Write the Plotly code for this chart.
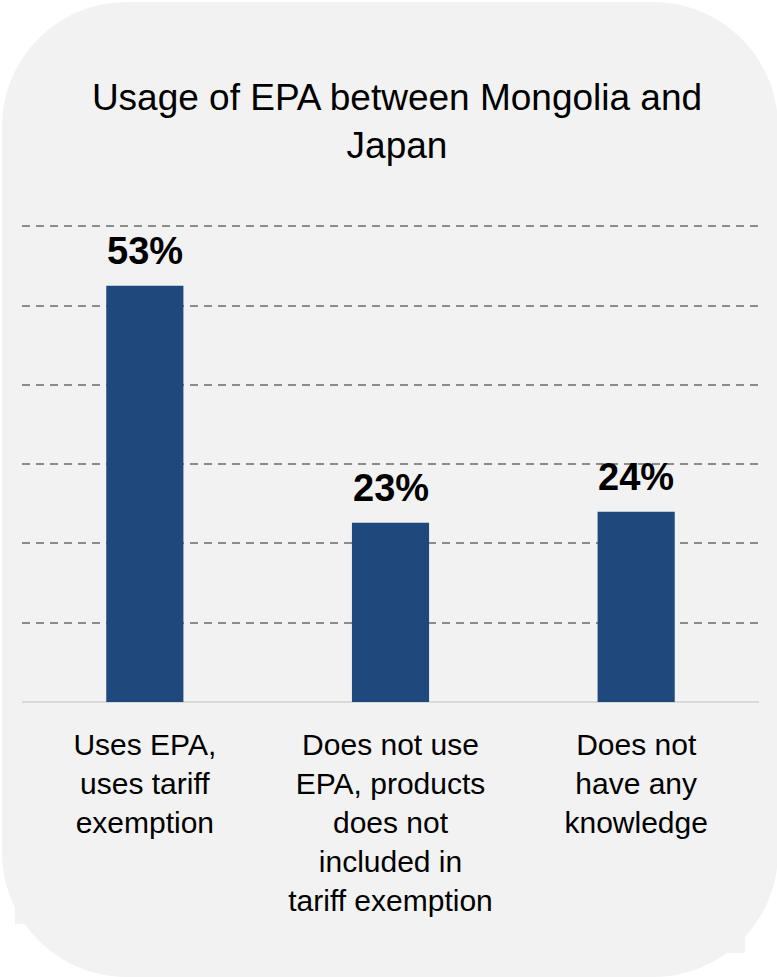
import plotly.graph_objects as go

categories = [
    "Uses EPA,<br>uses tariff<br>exemption",
    "Does not use<br>EPA, products<br>does not<br>included in<br>tariff exemption",
    "Does not<br>have any<br>knowledge",
]
values = [52.5, 22.6, 24.0]
value_labels = ["53%", "23%", "24%"]
title_text = "Usage of EPA between Mongolia and<br>Japan"

W, H = 777, 977
YMAX = 60.3
L, R, B = 22, 18, 275
UNIT = (702 - 226) / 60.0
T = int(round(702 - YMAX * UNIT))
PW, PH = W - L - R, H - T - B


def xp(px):
    return (px - L) / PW


def yp(py):
    return (H - B - py) / PH


def pt(px, py):
    return f"{xp(px):.5f},{yp(py):.5f}"


# rounded rectangle background
x0, x1, y0, y1, r = 2, 778, 2, 977, 125
k = 0.5523 * r
bg_path = (
    f"M{pt(x0 + r, y0)} L{pt(x1 - r, y0)} "
    f"C{pt(x1 - r + k, y0)} {pt(x1, y0 + r - k)} {pt(x1, y0 + r)} "
    f"L{pt(x1, y1 - r)} "
    f"C{pt(x1, y1 - r + k)} {pt(x1 - r + k, y1)} {pt(x1 - r, y1)} "
    f"L{pt(x0 + r, y1)} "
    f"C{pt(x0 + r - k, y1)} {pt(x0, y1 - r + k)} {pt(x0, y1 - r)} "
    f"L{pt(x0, y0 + r)} "
    f"C{pt(x0, y0 + r - k)} {pt(x0 + r - k, y0)} {pt(x0 + r, y0)} Z"
)
notch_path = (
    f"M{pt(15, 300)} L{pt(745, 300)} L{pt(745, 953)} L{pt(400, 953)} "
    f"L{pt(400, 924)} L{pt(15, 924)} Z"
)

fig = go.Figure(
    go.Bar(
        x=categories,
        y=values,
        marker=dict(color="#1f497d", line=dict(width=0)),
        width=0.314,
        hoverinfo="skip",
    )
)

for c, v, t in zip(categories, values, value_labels):
    fig.add_annotation(
        x=c, y=v, text=f"<b>{t}</b>", showarrow=False,
        yanchor="bottom", yshift=12,
        font=dict(family="Liberation Sans, Arial", size=38, color="#000000"),
    )

fig.update_layout(
    width=W, height=H,
    margin=dict(l=L, r=R, t=T, b=B),
    paper_bgcolor="#ffffff",
    plot_bgcolor="rgba(0,0,0,0)",
    showlegend=False,
    title=dict(
        text=title_text, x=397 / W, xanchor="center", xref="container",
        y=1 - 110 / H, yanchor="top", yref="container",
        font=dict(family="Liberation Sans, Arial", size=37, color="#000000"),
    ),
    shapes=[
        dict(type="path", path=notch_path, xref="paper", yref="paper",
             fillcolor="#f2f2f2", line=dict(width=0), layer="below"),
        dict(type="path", path=bg_path, xref="paper", yref="paper",
             fillcolor="#f2f2f2", line=dict(width=0), layer="below"),
    ],
    xaxis=dict(
        showgrid=False, showline=False, ticks="", zeroline=False,
        tickfont=dict(family="Liberation Sans, Arial", size=30, color="#000000"),
        ticklabelstandoff=22,
    ),
    yaxis=dict(
        range=[0, YMAX], dtick=10, showticklabels=False, ticks="",
        showgrid=True, gridcolor="#8c8c8c", gridwidth=1.8, griddash="8px,6px",
        zeroline=True, zerolinecolor="#d9d9d9", zerolinewidth=1.5,
        showline=False,
    ),
    bargap=0.686,
)

fig.write_html("out.html")
